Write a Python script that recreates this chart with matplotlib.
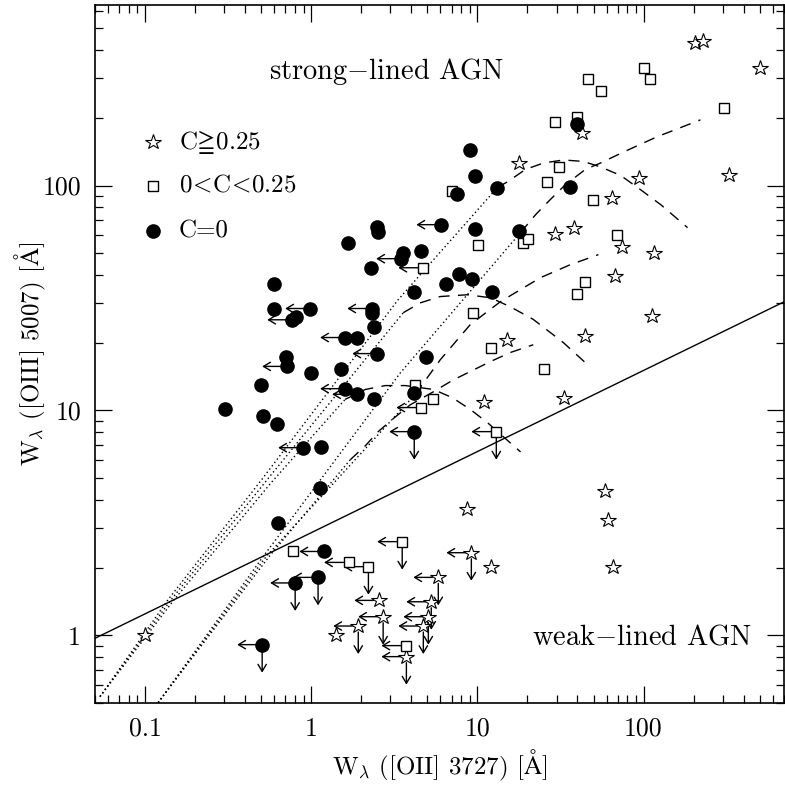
import matplotlib
matplotlib.use("Agg")
import matplotlib.pyplot as plt
from matplotlib.ticker import FixedLocator, LogLocator, NullFormatter
from matplotlib.transforms import offset_copy

# filled circles: C = 0  (limit flags: L = upper limit in x, D = upper limit in y)
circ_x = [9.08, 9.73, 13.2, 7.58, 6.07, 9.73, 17.7, 3.58, 3.48, 4.60, 4.17, 6.50, 7.79, 9.33,
          12.3, 4.93, 4.17, 39.5, 36.3, 4.17, 2.50, 2.53, 1.67, 2.30, 0.598, 0.598, 0.986, 0.769,
          0.812, 2.33, 2.33, 2.40, 1.60, 1.89, 2.50, 0.707, 0.717, 1.00, 1.52, 0.500, 1.60, 1.89,
          2.40, 0.303, 0.514, 0.624, 0.895, 1.15, 1.13, 0.633, 1.20, 0.801, 1.10, 0.507]
circ_y = [144.5, 110.7, 98, 92.0, 67.0, 64.3, 63.0, 50.3, 47.3, 51.4, 33.8, 36.6, 40.6, 38.5,
          33.8, 17.3, 12.0, 188, 98.9, 8.05, 65.6, 62.4, 55.7, 43.1, 36.6, 28.4, 28.4, 25.3,
          26.1, 28.4, 27.2, 23.6, 21.1, 21.1, 17.9, 17.3, 15.7, 14.6, 15.3, 13.0, 12.5, 11.8,
          11.3, 10.1, 9.48, 8.74, 6.83, 6.90, 4.54, 3.17, 2.36, 1.71, 1.81, 0.909]
circ_lim = ["", "", "", "", "L", "", "", "", "L", "", "", "", "", "",
            "", "", "", "", "", "LD", "", "", "", "", "", "", "L", "L",
            "", "L", "", "", "L", "", "L", "", "L", "", "", "", "L", "L",
            "", "", "", "", "L", "", "", "", "L", "LD", "LD", "LD"]

# open squares: 0 < C < 0.25
sq_x = [100, 110, 46.6, 55.1, 303, 29.5, 40.0, 30.8, 26.4, 49.3, 7.07, 10.1, 18.9, 20.3, 69.7,
        44.7, 40.0, 4.73, 9.46, 12.0, 25.3, 4.23, 5.43, 4.60, 13.0, 3.53, 0.779, 1.69, 2.21, 3.74]
sq_y = [334, 299, 299, 264, 222, 192, 202, 121, 104, 86.7, 94.9, 54.6, 55.7, 58.1, 60.5,
        37.4, 33.1, 43.1, 27.2, 19.0, 15.3, 13.0, 11.2, 10.3, 8.05, 2.61, 2.36, 2.11, 2.02, 0.90]
sq_lim = ["", "", "", "", "", "", "", "", "", "", "", "", "", "", "",
          "", "", "L", "", "", "", "", "", "L", "LD", "LD", "", "L", "LD", "L"]

# open stars: C >= 0.25
st_x = [203, 227, 500, 42.9, 17.7, 93.3, 325, 65.0, 29.5, 37.9, 74.7, 115, 67.8, 113, 15.0,
        44.7, 10.9, 33.0, 59.0, 60.7, 8.71, 65.9, 12.1, 9.20, 5.82, 5.28, 5.07, 4.73, 3.74,
        2.57, 2.71, 1.92, 1.41, 0.10]
st_y = [432, 441, 334, 172, 126, 108, 111, 88.3, 61.1, 65.0, 53.5, 50.3, 39.8, 26.4, 20.6,
        21.5, 10.9, 11.4, 4.40, 3.27, 3.66, 2.02, 2.02, 2.33, 1.81, 1.41, 1.21, 1.10, 0.804,
        1.43, 1.21, 1.10, 1.0, 1.0]
st_lim = ["", "", "", "", "", "", "", "", "", "", "", "", "", "", "",
          "", "", "", "", "", "", "", "", "LD", "LD", "LD", "LD", "LD", "LD",
          "L", "LD", "LD", "", ""]

# dividing line strong / weak
div_x = [0.05, 700]
div_y = [0.97, 30.4]

# model tracks: dotted part followed by dashed part
dotted_tracks = [
    ([0.0536, 0.1376, 0.514, 3.34, 13.2], [0.534, 1.44, 5.02, 31.1, 98]),
    ([0.0536, 0.1435, 0.543, 3.58], [0.534, 1.44, 4.92, 27.2]),
    ([0.0536, 0.1496, 0.574, 1.60], [0.534, 1.44, 4.77, 11.2]),
    ([0.120, 0.514, 3.44, 18.2], [0.502, 2.24, 14.7, 61.8]),
    ([0.120, 0.536, 4.23], [0.502, 2.24, 11.8]),
    ([0.120, 0.558, 1.72], [0.502, 2.24, 6.04]),
]
dashed_tracks = [
    ([13.2, 15.2, 19.5, 25.0, 33.0, 43.5, 55.1, 72.7, 95.9, 127, 184],
     [98, 104, 118, 126, 130, 128, 121, 111, 95.9, 82.2, 65.0]),
    ([3.58, 4.54, 5.98, 8.71, 12.0, 15.8, 21.7, 27.5, 33.0, 44.7],
     [27.2, 30.1, 32.1, 32.7, 31.7, 28.9, 25.4, 22.2, 20.0, 16.3]),
    ([1.60, 2.12, 2.79, 3.68, 5.43, 7.07, 9.07, 11.5, 14.3, 18.2],
     [11.2, 12.4, 12.9, 12.9, 12.4, 11.4, 10.1, 8.83, 7.65, 6.54]),
    ([18.2, 22.4, 27.5, 33.9, 44.7, 55.1, 75.8, 121, 220],
     [61.8, 74.2, 86.7, 101, 118, 126, 141, 165, 196]),
    ([4.23, 5.98, 9.07, 13.8, 23.9, 36.3, 53.5],
     [11.8, 16.8, 24.1, 30.5, 38.9, 44.5, 49.3]),
    ([1.72, 2.12, 2.53, 3.12, 3.95, 5.43, 7.07, 9.07, 12.0, 15.8, 21.7],
     [6.04, 6.97, 8.05, 9.20, 10.6, 12.1, 13.6, 14.9, 16.5, 18.1, 19.6]),
]

x_ticks = [0.1, 1, 10, 100]
x_ticklabels = ["0.1", "1", "10", "100"]
y_ticks = [1, 10, 100]
y_ticklabels = ["1", "10", "100"]

plt.rcParams["font.family"] = ["cmr10", "DejaVu Serif", "DejaVu Sans"]
plt.rcParams["mathtext.fontset"] = "cm"
plt.rcParams["axes.unicode_minus"] = False

fig = plt.figure(figsize=(7.85, 7.87), dpi=100)
ax = fig.add_axes([0.121, 0.1067, 0.8777, 0.8869])
ax.set_xscale("log")
ax.set_yscale("log")
ax.set_xlim(0.05, 700)
ax.set_ylim(0.5, 635)

ax.plot(div_x, div_y, color="k", lw=1.0, zorder=2)
for xs, ys in dotted_tracks:
    ax.plot(xs, ys, color="k", lw=1.0, ls=(0, (1, 2)), zorder=2)
for xs, ys in dashed_tracks:
    ax.plot(xs, ys, color="k", lw=1.0, ls=(0, (8, 6)), zorder=2)


def limit_arrows(xs, ys, flags, r):
    for x, y, f in zip(xs, ys, flags):
        if "L" in f:
            t0 = offset_copy(ax.transData, fig=fig, x=-r, y=0, units="dots")
            t1 = offset_copy(ax.transData, fig=fig, x=-25, y=0, units="dots")
            ax.annotate("", xy=(x, y), xycoords=t1, xytext=(x, y), textcoords=t0,
                        arrowprops=dict(arrowstyle="->,head_length=0.5,head_width=0.3",
                                        lw=1.0, color="k", shrinkA=0, shrinkB=0), zorder=3)
        if "D" in f:
            t0 = offset_copy(ax.transData, fig=fig, x=0, y=-r, units="dots")
            t1 = offset_copy(ax.transData, fig=fig, x=0, y=-28, units="dots")
            ax.annotate("", xy=(x, y), xycoords=t1, xytext=(x, y), textcoords=t0,
                        arrowprops=dict(arrowstyle="->,head_length=0.5,head_width=0.3",
                                        lw=1.0, color="k", shrinkA=0, shrinkB=0), zorder=3)


limit_arrows(circ_x, circ_y, circ_lim, 6)
limit_arrows(sq_x, sq_y, sq_lim, 5)
limit_arrows(st_x, st_y, st_lim, 6)

star_kw = dict(marker="*", ms=11.5, mfc="white", mec="k", mew=0.8, ls="none", zorder=4)
sq_kw = dict(marker="s", ms=7.5, mfc="white", mec="k", mew=1.0, ls="none", zorder=4)
circ_kw = dict(marker="o", ms=9.5, mfc="k", mec="k", ls="none", zorder=5)

ax.plot(st_x, st_y, **star_kw)
ax.plot(sq_x, sq_y, **sq_kw)
ax.plot(circ_x, circ_y, **circ_kw)

# legend drawn by hand
ax.plot([0.084], [0.804], transform=ax.transAxes, **star_kw)
ax.plot([0.084], [0.741], transform=ax.transAxes, **sq_kw)
ax.plot([0.084], [0.676], transform=ax.transAxes, **circ_kw)
ax.text(0.122, 0.804, r"C$\!\geqq\!$0.25", transform=ax.transAxes, fontsize=18, va="center")
ax.text(0.122, 0.741, r"0$\!<\!$C$\!<\!$0.25", transform=ax.transAxes, fontsize=18, va="center")
ax.text(0.122, 0.676, "C=0", transform=ax.transAxes, fontsize=18, va="center")

ax.text(0.424, 0.905, r"strong$-$lined AGN", transform=ax.transAxes, fontsize=20.5,
        ha="center", va="center")
ax.text(0.794, 0.0946, r"weak$-$lined AGN", transform=ax.transAxes, fontsize=20.5,
        ha="center", va="center")

ax.xaxis.set_major_locator(FixedLocator(x_ticks))
ax.set_xticklabels(x_ticklabels)
ax.yaxis.set_major_locator(FixedLocator(y_ticks))
ax.set_yticklabels(y_ticklabels)
ax.xaxis.set_minor_locator(LogLocator(base=10, subs=range(2, 10), numticks=20))
ax.yaxis.set_minor_locator(LogLocator(base=10, subs=range(2, 10), numticks=20))
ax.xaxis.set_minor_formatter(NullFormatter())
ax.yaxis.set_minor_formatter(NullFormatter())
ax.tick_params(which="both", direction="in", top=True, right=True, width=0.9,
               labelsize=18.5, pad=10)
ax.tick_params(which="major", length=12)
ax.tick_params(which="minor", length=6)
for s in ax.spines.values():
    s.set_linewidth(1.2)

ax.set_xlabel(r"W$_\lambda$ ([OII] 3727) [$\mathrm{\AA}$]", fontsize=18)
ax.set_ylabel(r"W$_\lambda$ ([OIII] 5007) [$\mathrm{\AA}$]", fontsize=18)
ax.xaxis.set_label_coords(0.5, -0.064)
ax.yaxis.set_label_coords(-0.068, 0.5)

fig.savefig("out.png", dpi=100)
